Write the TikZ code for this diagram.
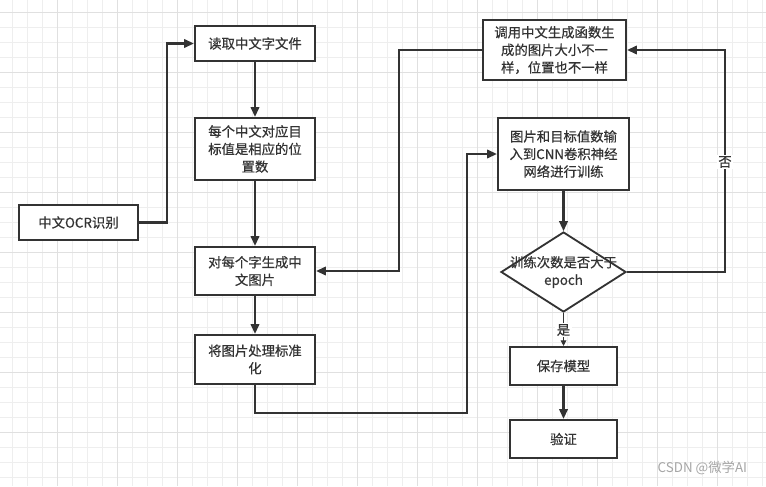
\documentclass[tikz,border=0pt]{standalone}
\usepackage{fontspec}
\setmainfont{Liberation Sans}
\newfontfamily\cjk[FakeBold=0.5]{Noto Sans CJK SC}
\newfontfamily\cjkmark{Noto Sans CJK SC}
\usetikzlibrary{shapes.geometric,arrows.meta}
\definecolor{inkgray}{HTML}{333333}
\definecolor{gridminor}{HTML}{EEEEEE}
\definecolor{gridmajor}{HTML}{E0E0E0}
\tikzset{
  stepbox/.style={draw=inkgray, line width=1.5pt, fill=white, align=center,
    text=inkgray, font=\cjk\fontsize{9.5}{12.5}\selectfont, inner sep=2pt},
  choice/.style={diamond, draw=inkgray, line width=1.3pt, fill=white, align=center,
    text=inkgray, font=\cjk\fontsize{9.5}{12.5}\selectfont, inner sep=0pt,
    minimum width=125*0.025cm, minimum height=80*0.025cm, aspect=1.56},
  flow/.style={draw=inkgray, line width=1.5pt, -{Triangle[length=7pt,width=6pt]}},
  tag/.style={fill=white, text=inkgray, font=\cjk\fontsize{9.5}{11}\selectfont, inner sep=1pt}
}
\begin{document}
\begin{tikzpicture}[x=0.025cm, y=-0.025cm]
  \useasboundingbox (0,0) rectangle (766,486);
  \fill[white] (0,0) rectangle (766,486);
  % background grid, 15px cells
  \foreach \gx in {0,...,50} {
    \draw[gridminor, line width=0.6pt] (12.7+15*\gx,0) -- (12.7+15*\gx,486);
  }
  \foreach \gy in {0,...,31} {
    \draw[gridminor, line width=0.6pt] (0,12.3+15*\gy) -- (766,12.3+15*\gy);
  }
  \foreach \gx in {0,...,12} {
    \draw[gridmajor, line width=0.6pt] (-2.3+60*\gx,0) -- (-2.3+60*\gx,486);
  }
  \foreach \gy in {0,...,7} {
    \draw[gridmajor, line width=0.6pt] (0,12.3+60*\gy) -- (766,12.3+60*\gy);
  }

  % left column
  \node[stepbox, minimum width=119*0.025cm, minimum height=35*0.025cm] (ocr) at (78.5,222.5) {中文OCR识别};
  \node[stepbox, minimum width=120*0.025cm, minimum height=35*0.025cm] (readfile) at (255,43.5) {读取中文字文件};
  \node[stepbox, minimum width=120*0.025cm, minimum height=62*0.025cm] (target) at (255,149) {每个中文对应目\\标值是相应的位\\置数};
  \node[stepbox, minimum width=120*0.025cm, minimum height=48*0.025cm] (genimg) at (255,271) {对每个字生成中\\文图片};
  \node[stepbox, minimum width=120*0.025cm, minimum height=49*0.025cm] (norm) at (255,359.5) {将图片处理标准\\化};

  % right column
  \node[stepbox, minimum width=143*0.025cm, minimum height=60*0.025cm] (callgen) at (554.5,50) {调用中文生成函数生\\成的图片大小不一\\样，位置也不一样};
  \node[stepbox, minimum width=131*0.025cm, minimum height=72*0.025cm] (cnn) at (563.5,154) {图片和目标值数输\\入到CNN卷积神经\\网络进行训练};
  \node[choice] (epoch) at (563.5,272) {\makebox[0pt]{训练次数是否大于}\\\makebox[0pt]{epoch}};
  \node[stepbox, minimum width=107*0.025cm, minimum height=38*0.025cm] (save) at (563.5,366) {保存模型};
  \node[stepbox, minimum width=107*0.025cm, minimum height=38*0.025cm] (verify) at (563.5,439) {验证};

  % connectors
  \draw[flow] (ocr.east) -| (167,43.5) -- (readfile.west);
  \draw[flow] (readfile) -- (target);
  \draw[flow] (target) -- (genimg);
  \draw[flow] (genimg) -- (norm);
  \draw[flow] (norm.south) |- (467,413) |- (cnn.west);
  \draw[flow] (cnn) -- (epoch);
  \draw[flow] (epoch.east) -| (725,50) -- (callgen.east);
  \draw[flow] (callgen.west) -| (399,271) -- (genimg.east);
  \draw[draw=inkgray, line width=0.8pt, -{Triangle[length=4pt,width=4pt]}] (epoch.south) -- (save.north);
  \draw[flow] (save) -- (verify);
  \node[tag] (no) at (725,162) {否};
  \node[tag] (yes) at (563.5,330) {是};

  % watermark
  \node[text=black!35, font=\cjkmark\fontsize{9.5}{10}\selectfont, anchor=east] (mark) at (752,468) {CSDN @微学AI};
\end{tikzpicture}
\end{document}
